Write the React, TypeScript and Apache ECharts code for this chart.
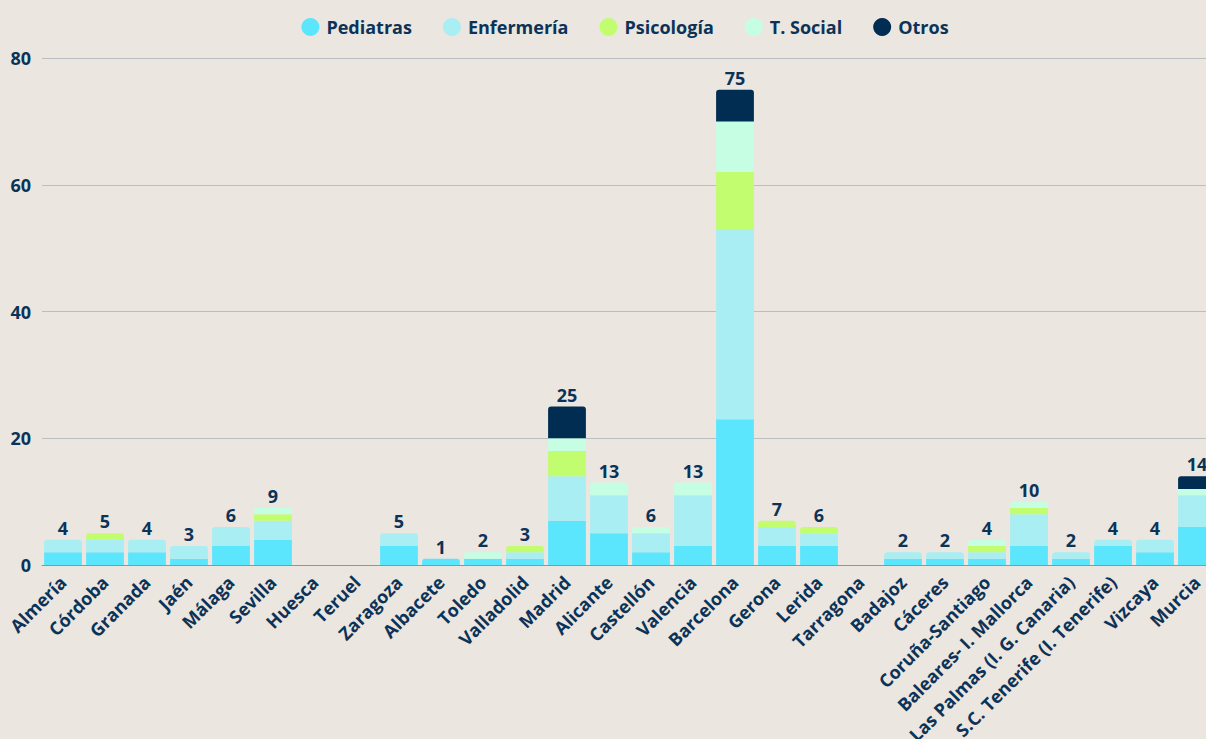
import React, { useEffect, useRef } from "react";
import * as echarts from "echarts";

const categories = [
  "Almería", "Córdoba", "Granada", "Jaén", "Málaga", "Sevilla", "Huesca", "Teruel",
  "Zaragoza", "Albacete", "Toledo", "Valladolid", "Madrid", "Alicante", "Castellón",
  "Valencia", "Barcelona", "Gerona", "Lerida", "Tarragona", "Badajoz", "Cáceres",
  "Coruña-Santiago", "Baleares- I. Mallorca", "Las Palmas (I. G. Canaria)",
  "S.C. Tenerife (I. Tenerife)", "Vizcaya", "Murcia",
];
const pediatras = [2, 2, 2, 1, 3, 4, 0, 0, 3, 1, 1, 1, 7, 5, 2, 3, 23, 3, 3, 0, 1, 1, 1, 3, 1, 3, 2, 6];
const enfermeria = [2, 2, 2, 2, 3, 3, 0, 0, 2, 0, 0, 1, 7, 6, 3, 8, 30, 3, 2, 0, 1, 1, 1, 5, 1, 1, 2, 5];
const psicologia = [0, 1, 0, 0, 0, 1, 0, 0, 0, 0, 0, 1, 4, 0, 0, 0, 9, 1, 1, 0, 0, 0, 1, 1, 0, 0, 0, 0];
const tSocial = [0, 0, 0, 0, 0, 1, 0, 0, 0, 0, 1, 0, 2, 2, 1, 2, 8, 0, 0, 0, 0, 0, 1, 1, 0, 0, 0, 1];
const otros = [0, 0, 0, 0, 0, 0, 0, 0, 0, 0, 0, 0, 5, 0, 0, 0, 5, 0, 0, 0, 0, 0, 0, 0, 0, 0, 0, 2];
const yTicks = [0, 20, 40, 60, 80];

const seriesDefs = [
  { name: "Pediatras", data: pediatras, color: "#5ce6fe" },
  { name: "Enfermería", data: enfermeria, color: "#a9eef2" },
  { name: "Psicología", data: psicologia, color: "#c2fd6f" },
  { name: "T. Social", data: tSocial, color: "#c6fee3" },
  { name: "Otros", data: otros, color: "#012d52" },
];

const TEXT = "#0b3358";
const FONT = "'Open Sans', 'Noto Sans', sans-serif";

export default function App() {
  const ref = useRef<HTMLDivElement>(null);
  useEffect(() => {
    if (!ref.current) return;
    const chart = echarts.init(ref.current, undefined, { renderer: "svg" });
    const totals = categories.map((_, i) => seriesDefs.reduce((s, d) => s + d.data[i], 0));
    const topIdx = categories.map((_, i) => {
      let t = -1;
      seriesDefs.forEach((d, k) => { if (d.data[i] > 0) t = k; });
      return t;
    });
    const series: any[] = seriesDefs.map((d, k) => ({
      name: d.name,
      type: "bar",
      stack: "total",
      barCategoryGap: "10%",
      itemStyle: { color: d.color },
      data: d.data.map((v, i) => ({
        value: v,
        itemStyle: topIdx[i] === k ? { borderRadius: [3, 3, 0, 0] } : { borderRadius: 0 },
      })),
    }));
    series.push({
      name: "total",
      type: "scatter",
      symbolSize: 0,
      silent: true,
      data: totals.map((t) => (t > 0 ? t : "-")),
      label: {
        show: true,
        position: "top",
        distance: 3,
        color: TEXT,
        opacity: 1,
        fontFamily: FONT,
        fontWeight: "bold",
        fontSize: 18,
        formatter: (p: any) => String(p.value),
      },
      z: 5,
    });
    chart.setOption({
      animation: false,
      backgroundColor: "#ebe6e0",
      legend: {
        data: seriesDefs.map((d) => d.name),
        top: 13,
        left: "center",
        icon: "circle",
        itemWidth: 18,
        itemHeight: 18,
        itemGap: 31,
        textStyle: {
          color: TEXT,
          fontFamily: FONT,
          fontWeight: "bold",
          fontSize: 18,
          padding: [0, 0, 0, 2],
        },
      },
      grid: { left: 42, right: 32, top: 58, bottom: 174, containLabel: false, outerBoundsMode: "none" },
      xAxis: {
        type: "category",
        data: categories,
        axisLine: { lineStyle: { color: "#8f959b", width: 1 } },
        axisTick: { show: false },
        axisLabel: {
          interval: 0,
          rotate: 45,
          margin: 14,
          color: TEXT,
          fontFamily: FONT,
          fontWeight: "bold",
          fontSize: 18,
        },
      },
      yAxis: {
        type: "value",
        min: yTicks[0],
        max: yTicks[yTicks.length - 1],
        interval: 20,
        axisLine: { show: false },
        axisTick: { show: false },
        splitLine: { lineStyle: { color: "#babdc1", width: 1 } },
        axisLabel: {
          margin: 11,
          color: TEXT,
          fontFamily: FONT,
          fontWeight: "bold",
          fontSize: 18,
        },
      },
      series,
    });
    return () => chart.dispose();
  }, []);
  return (
    <div style={{ position: "fixed", left: 0, top: 0, width: 1206, height: 739, overflow: "hidden", background: "#ebe6e0" }}>
      <div ref={ref} style={{ width: 1250, height: 739 }} />
    </div>
  );
}
